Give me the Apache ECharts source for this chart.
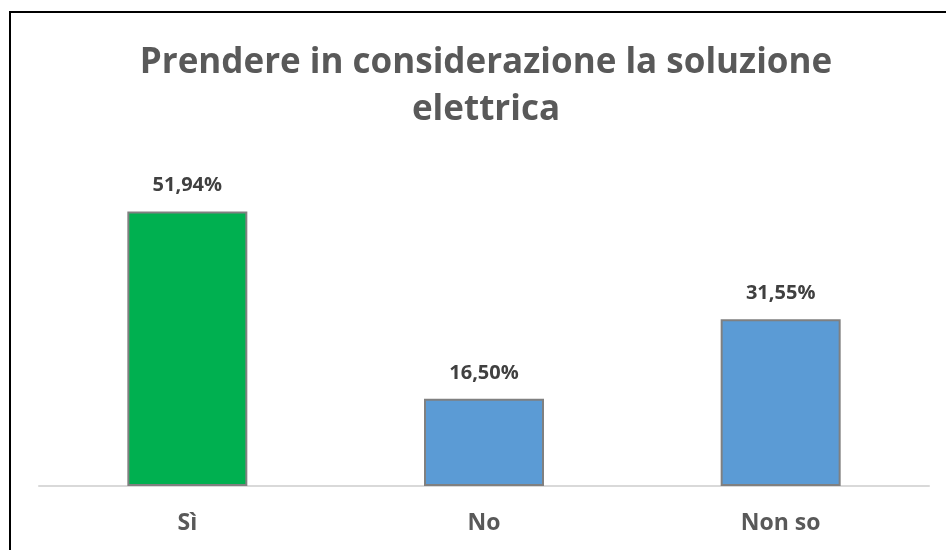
<!DOCTYPE html>
<html>
<head>
<meta charset="utf-8">
<script src="https://cdn.jsdelivr.net/npm/echarts@6/dist/echarts.min.js"></script>
<style>
  html, body { margin: 0; padding: 0; background: #fff; }
  #chart { width: 946px; height: 550px; }
</style>
</head>
<body>
<div id="chart"></div>
<script>
// Risposte al sondaggio
const categories = ['Sì', 'No', 'Non so'];
const values = [51.94, 16.50, 31.55];
const barColors = ['#00B050', '#5B9BD5', '#5B9BD5'];
const titleText = 'Prendere in considerazione la soluzione\nelettrica';

const fmt = v => v.toFixed(2).replace('.', ',') + '%';

const chart = echarts.init(document.getElementById('chart'), null, { renderer: 'canvas' });
chart.setOption({
  backgroundColor: '#fff',
  animation: false,
  title: {
    text: titleText,
    left: 481,
    top: 35,
    textAlign: 'center',
    textStyle: {
      fontFamily: 'Open Sans',
      fontWeight: 'bold',
      fontSize: 35,
      color: '#595959',
      lineHeight: 47
    }
  },
  graphic: [{
    type: 'rect',
    shape: { x: 10, y: 12, width: 1000, height: 1000 },
    style: { fill: 'none', stroke: '#000', lineWidth: 2 },
    silent: true
  }],
  grid: { left: 39, right: 17, top: 169, bottom: 64 },
  xAxis: {
    type: 'category',
    data: categories,
    axisLine: { lineStyle: { color: '#D9D9D9', width: 2 } },
    axisTick: { show: false },
    axisLabel: {
      margin: 26,
      fontFamily: 'Open Sans',
      fontWeight: 'bold',
      fontSize: 23,
      color: '#595959'
    }
  },
  yAxis: {
    type: 'value',
    min: 0,
    max: 60,
    show: false,
    splitLine: { show: false }
  },
  series: [{
    type: 'bar',
    barWidth: 120,
    data: values.map((v, i) => ({
      value: v,
      itemStyle: { color: barColors[i] }
    })),
    itemStyle: { borderColor: '#808080', borderWidth: 2 },
    label: {
      show: true,
      position: 'top',
      distance: 16,
      formatter: p => fmt(p.value),
      fontFamily: 'Open Sans',
      fontWeight: 'bold',
      fontSize: 20,
      color: '#404040'
    }
  }]
});
</script>
</body>
</html>
